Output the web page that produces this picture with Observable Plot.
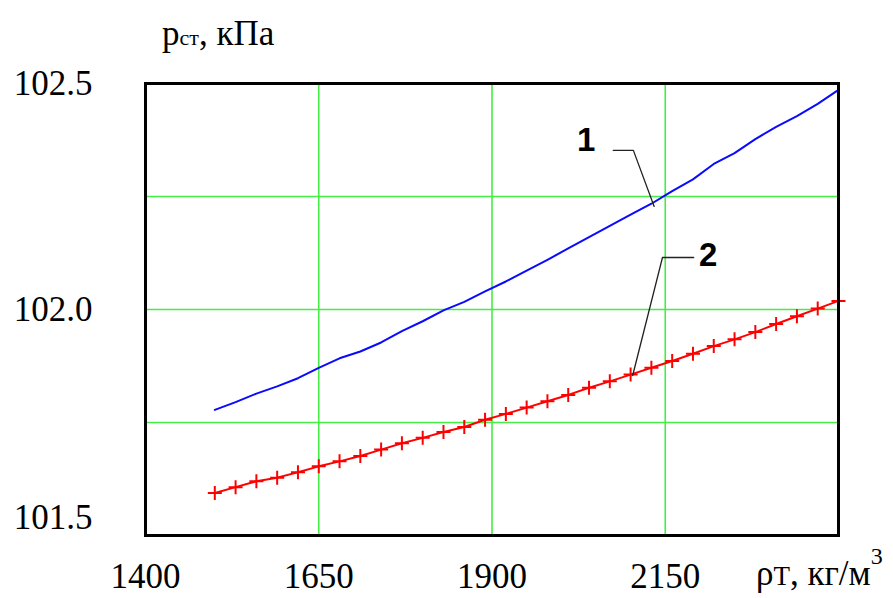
<!DOCTYPE html>
<html>
<head>
<meta charset="utf-8">
<script src="https://cdn.jsdelivr.net/npm/d3@7"></script>
<script src="https://cdn.jsdelivr.net/npm/@observablehq/plot@0.6"></script>
<style>
  html, body { margin: 0; padding: 0; background: #fff; }
  #chart { width: 893px; height: 598px; }
  #chart svg g[aria-label^="x-axis"] text,
  #chart svg g[aria-label^="y-axis"] text,
  #chart svg text.title { font-family: "Liberation Serif", "Times New Roman", serif !important; }
</style>
</head>
<body>
<div id="chart"></div>
<script>
// Density values (kg/m3) at which both curves are sampled
const density = [1500, 1530, 1560, 1590, 1620, 1650, 1680, 1710, 1740, 1770,
                 1800, 1830, 1860, 1890, 1920, 1950, 1980, 2010, 2040, 2070,
                 2100, 2130, 2160, 2190, 2220, 2250, 2280, 2310, 2340, 2370, 2400];
// Curve 1 (blue), kPa
const pressure1 = [101.778, 101.795, 101.814, 101.830, 101.848, 101.871, 101.892, 101.907, 101.927, 101.952,
                   101.974, 101.998, 102.017, 102.040, 102.062, 102.086, 102.110, 102.135, 102.160, 102.185,
                   102.210, 102.234, 102.262, 102.288, 102.322, 102.346, 102.377, 102.404, 102.428, 102.455, 102.486];
// Curve 2 (red, with + markers), kPa
const pressure2 = [101.594, 101.607, 101.620, 101.628, 101.640, 101.653, 101.664, 101.676, 101.690, 101.704,
                   101.716, 101.729, 101.740, 101.756, 101.769, 101.783, 101.797, 101.811, 101.827, 101.841,
                   101.856, 101.871, 101.886, 101.902, 101.919, 101.934, 101.950, 101.968, 101.985, 102.002, 102.019];

const xTicks = [1400, 1650, 1900, 2150];
const yTicksMain = [102.5, 102.0];
const yTickLow = [101.5];
const xGrid = [1650, 1900, 2150];
const yGrid = [101.75, 102.0, 102.25];

// Annotation leaders (data units)
const leader1X = [2075, 2104, 2134];
const leader1Y = [102.352, 102.352, 102.228];
const leader2X = [2191, 2146, 2103];
const leader2Y = [102.115, 102.115, 101.854];
const labelNames = ["1", "2"];
const labelX = [2036, 2212];
const labelY = [102.374, 102.119];

const s1 = density.map((d, i) => ({x: d, y: pressure1[i]}));
const s2 = density.map((d, i) => ({x: d, y: pressure2[i]}));
const l1 = leader1X.map((d, i) => ({x: d, y: leader1Y[i]}));
const l2 = leader2X.map((d, i) => ({x: d, y: leader2Y[i]}));
const labels = labelNames.map((t, i) => ({t, x: labelX[i], y: labelY[i]}));

const plusSymbol = {
  draw(context, size) {
    const r = Math.sqrt(size / Math.PI);
    context.moveTo(-r, 0); context.lineTo(r, 0);
    context.moveTo(0, -r); context.lineTo(0, r);
  }
};

const serif = "Liberation Serif";
const green = "#44ee44";

const plot = Plot.plot({
  width: 893,
  height: 598,
  marginLeft: 145,
  marginRight: 55,
  marginTop: 83,
  marginBottom: 63,
  style: {fontFamily: serif, background: "#fff", overflow: "visible"},
  x: {domain: [1400, 2400]},
  y: {domain: [101.5, 102.5]},
  marks: [
    Plot.gridX(xGrid, {stroke: green, strokeOpacity: 1, strokeWidth: 1.6}),
    Plot.gridY(yGrid, {stroke: green, strokeOpacity: 1, strokeWidth: 1.6}),
    Plot.axisX({ticks: xTicks, tickSize: 0, tickPadding: 28, fontSize: 35, label: null,
                tickFormat: d => String(d), fill: "#000", fontFamily: serif}),
    Plot.axisY({ticks: yTicksMain, tickSize: 0, tickPadding: 53, fontSize: 35, label: null,
                tickFormat: d => d.toFixed(1), fill: "#000", fontFamily: serif}),
    Plot.axisY({ticks: yTickLow, tickSize: 0, tickPadding: 53, fontSize: 35, label: null,
                tickFormat: d => d.toFixed(1), dy: -18, fill: "#000", fontFamily: serif}),
    Plot.line(s1, {x: "x", y: "y", stroke: "#0a0aff", strokeWidth: 2}),
    Plot.line(s2, {x: "x", y: "y", stroke: "#ff0000", strokeWidth: 2}),
    Plot.dot(s2, {x: "x", y: "y", symbol: plusSymbol, r: 7, stroke: "#ff0000", strokeWidth: 2, fill: "none"}),
    Plot.line(l1, {x: "x", y: "y", stroke: "#222", strokeWidth: 1.3}),
    Plot.line(l2, {x: "x", y: "y", stroke: "#222", strokeWidth: 1.3}),
    Plot.text(labels, {x: "x", y: "y", text: "t", fontSize: 33, fontWeight: "bold",
                       fontFamily: "Liberation Sans", fill: "#000"}),
    Plot.frame({stroke: "#000", strokeWidth: 3})
  ]
});

document.getElementById("chart").appendChild(plot);

// Axis titles with sub/superscripts
const svg = d3.select(plot);
const yt = svg.append("text").attr("class", "title")
  .attr("x", 162).attr("y", 45).attr("text-anchor", "start")
  .attr("font-size", 35).attr("fill", "#000");
yt.append("tspan").text("p");
yt.append("tspan").attr("font-size", 22).text("ст");
yt.append("tspan").text(", кПа");

const xt = svg.append("text").attr("class", "title")
  .attr("x", 756).attr("y", 585).attr("text-anchor", "start")
  .attr("font-size", 35).attr("fill", "#000");
xt.append("tspan").text("ρ");
xt.append("tspan").attr("font-size", 27).text("T");
xt.append("tspan").text(", кг/м");
xt.append("tspan").attr("font-size", 24).attr("dy", -21).text("3");
</script>
</body>
</html>
